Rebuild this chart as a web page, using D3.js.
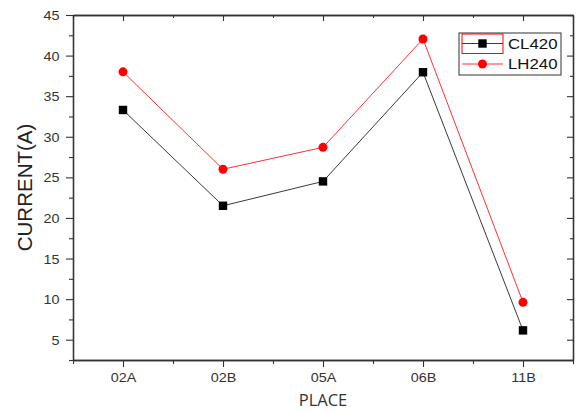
<!DOCTYPE html>
<html>
<head>
<meta charset="utf-8">
<script src="https://cdn.jsdelivr.net/npm/d3@7"></script>
<style>
  body { margin: 0; background: #fff; }
  svg text { font-family: "Liberation Sans", Arial, sans-serif; }
</style>
</head>
<body>
<svg width="576" height="413"></svg>
<script>
let width = 576, height = 413;

const places = ["02A", "02B", "05A", "06B", "11B"];
const cl420 = [33.3, 21.5, 24.5, 37.95, 6.15];
const lh240 = [38.0, 26.0, 28.7, 42.05, 9.6];
const yTicks = [5, 10, 15, 20, 25, 30, 35, 40, 45];

let margin = { left: 73, right: 3, top: 15, bottom: 53 };
let svg = d3.select("svg");

// label text in the original is drawn a bit wider than Arial
let sx = 1.15;

// Scales
let x = d3.scaleLinear().domain([0.5, 5.5]).range([margin.left, width - margin.right]);
let y = d3.scaleLinear().domain([2.5, 45]).range([height - margin.bottom, margin.top]);

let majorX = d3.range(1, 6), minorX = d3.range(0.5, 6, 1);
let minorY = d3.range(2.5, 45.1, 5);

// Axes
let xAxisBottom = svg.append("g").attr("transform", `translate(0,${y(2.5)})`)
    .call(d3.axisBottom(x).tickValues(majorX).tickFormat(d => places[d - 1]).tickSizeInner(7).tickSizeOuter(0));
xAxisBottom.append("g").call(d3.axisBottom(x).tickValues(minorX).tickFormat("").tickSize(4).tickSizeOuter(0));

let yAxisLeft = svg.append("g").attr("transform", `translate(${x(0.5)},0)`)
    .call(d3.axisLeft(y).tickValues(yTicks).tickSizeInner(7).tickSizeOuter(0));
yAxisLeft.append("g").call(d3.axisLeft(y).tickValues(minorY).tickFormat("").tickSize(4).tickSizeOuter(0));

let xAxisTop = svg.append("g").attr("transform", `translate(0,${y(45)})`)
    .call(d3.axisBottom(x).tickValues(majorX).tickFormat("").tickSize(6).tickSizeOuter(0));
xAxisTop.append("g").call(d3.axisBottom(x).tickValues(minorX).tickFormat("").tickSize(3).tickSizeOuter(0));

let yAxisRight = svg.append("g").attr("transform", `translate(${x(5.5)},0)`)
    .call(d3.axisLeft(y).tickValues(yTicks).tickFormat("").tickSize(6).tickSizeOuter(0));
yAxisRight.append("g").call(d3.axisLeft(y).tickValues(minorY).tickFormat("").tickSize(3).tickSizeOuter(0));

svg.selectAll(".domain").attr("stroke", "#333").attr("stroke-width", 1.3);
svg.selectAll(".tick line").attr("stroke", "#333").attr("stroke-width", 1.1);
svg.selectAll(".tick text").attr("fill", "#333").style("font-size", "12.5px")
    .attr("transform", `scale(${sx},1)`);
yAxisLeft.selectAll(".tick text").attr("x", -13.5 / sx).attr("dy", "0.36em");
xAxisBottom.selectAll(".tick text").attr("y", 13);

// Axis titles
svg.append("text")
    .attr("x", x(3)).attr("y", 406)
    .attr("text-anchor", "middle")
    .style("font-family", "'Open Sans', sans-serif").style("font-size", "16.5px").attr("fill", "#333")
    .text("PLACE");
svg.append("text")
    .attr("transform", `translate(32,${(y(45) + y(2.5)) / 2}) rotate(-90)`)
    .attr("text-anchor", "middle")
    .style("font-size", "20.5px").attr("fill", "#222")
    .text("CURRENT(A)");

// Lines
let line = d3.line().x((d, i) => x(i + 1)).y(d => y(d));

svg.append("path").datum(cl420).attr("d", line)
    .attr("fill", "none").attr("stroke", "#3a3a3a").attr("stroke-width", 1);
svg.append("path").datum(lh240).attr("d", line)
    .attr("fill", "none").attr("stroke", "#ff3030").attr("stroke-width", 1);

svg.append("g").selectAll("rect").data(cl420).enter().append("rect")
    .attr("x", (d, i) => x(i + 1) - 4.2).attr("y", d => y(d) - 4.2)
    .attr("width", 8.4).attr("height", 8.4).attr("fill", "#000");
svg.append("g").selectAll("circle").data(lh240).enter().append("circle")
    .attr("cx", (d, i) => x(i + 1)).attr("cy", d => y(d))
    .attr("r", 4.5).attr("fill", "#f00");

// Legend
let legend = svg.append("g").attr("transform", "translate(459,33)");
legend.append("rect").attr("width", 102).attr("height", 42)
    .attr("fill", "#fff").attr("stroke", "#333").attr("stroke-width", 1);
legend.append("rect").attr("x", 3).attr("y", 1).attr("width", 41).attr("height", 19.5)
    .attr("fill", "none").attr("stroke", "#f00").attr("stroke-width", 1);

let series = [{ name: "CL420", color: "#3a3a3a", shape: "square" }, { name: "LH240", color: "#ff3030", shape: "circle" }];
let item = legend.selectAll(".legenditem").data(series).enter().append("g")
    .attr("class", "legenditem")
    .attr("transform", (d, i) => `translate(0,${10.5 + i * 20.5})`);
item.append("line").attr("x1", 3).attr("x2", 44)
    .attr("stroke", d => d.color).attr("stroke-width", 1);
item.filter(d => d.shape == "square").append("rect")
    .attr("x", 19.3).attr("y", -4.2).attr("width", 8.4).attr("height", 8.4).attr("fill", "#000");
item.filter(d => d.shape == "circle").append("circle")
    .attr("cx", 23.5).attr("r", 4.5).attr("fill", "#f00");
item.append("text").attr("x", 49 / 1.2).attr("dy", "0.36em")
    .attr("transform", "scale(1.2,1)")
    .style("font-size", "14px").attr("fill", "#111")
    .text(d => d.name);
</script>
</body>
</html>
